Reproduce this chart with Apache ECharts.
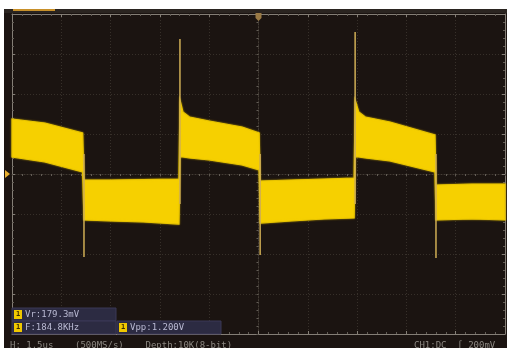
<!DOCTYPE html>
<html><head><meta charset="utf-8">
<script src="https://cdn.jsdelivr.net/npm/echarts@6/dist/echarts.min.js"></script>
<style>
html,body{margin:0;padding:0;background:#ffffff;width:510px;height:348px;overflow:hidden;}
#c{position:absolute;left:4px;top:9px;width:503px;height:339px;}
</style></head><body>
<div id="c"></div>
<script>
// time axis (µs) and voltage axis (V), 1.5 µs/div, 200 mV/div
const xTicks = [-7.5, 7.5, 1.5];
const yTicks = [-0.8, 0.8, 0.2];

// trace envelope: time points, upper edge and lower edge of the noisy band (V)
const bandT   = [-7.5, -6.5, -5.35, -5.31, -4.5, -3.5, -2.42, -2.39, -2.3, -2.1, -1.5, -0.5, 0.02, 0.05, 1.0, 2.0, 2.91, 2.94, 3.05, 3.25, 4.0, 5.37, 5.40, 6.5, 7.5];
const bandTop = [0.275, 0.255, 0.205, -0.03, -0.03, -0.028, -0.025, 0.37, 0.31, 0.285, 0.265, 0.235, 0.205, -0.035, -0.03, -0.025, -0.02, 0.37, 0.31, 0.285, 0.26, 0.195, -0.055, -0.05, -0.05];
const bandBot = [0.085, 0.06, 0.01, -0.23, -0.235, -0.24, -0.25, 0.085, 0.085, 0.08, 0.07, 0.045, 0.02, -0.245, -0.235, -0.225, -0.22, 0.085, 0.085, 0.08, 0.065, 0.01, -0.23, -0.225, -0.23];

// switching spikes at the edges
const edgeT      = [-5.31, -2.39, 0.05, 2.94, 5.40];
const spikeFrom  = [0.10, -0.15, 0.10, -0.15, 0.10];
const spikeTo    = [-0.415, 0.675, -0.405, 0.71, -0.42];

// on-screen readouts
const measRows = [["Vr:179.3mV"], ["F:184.8KHz", "Vpp:1.200V"]];
const statusLeft = "H: 1.5us    (500MS/s)    Depth:10K(8-bit)";
const statusRight = "CH1:DC  \u222B 200mV";

const spikeData = [];
edgeT.forEach((t, i) => { spikeData.push([t, spikeFrom[i]], [t, spikeTo[i]], '-'); });

const chart = echarts.init(document.getElementById('c'), null, {renderer: 'canvas'});
const gridCol = '#37302a';
const borderCol = '#847e76';
function axisBase(extra) {
  return Object.assign({
    type: 'value', min: extra.min, max: extra.max, interval: extra.interval,
    axisLabel: {show: false},
    axisLine: {show: true, lineStyle: {color: borderCol, width: 1}},
    axisTick: {show: true, inside: true, length: 3, lineStyle: {color: borderCol}},
    minorTick: {show: true, splitNumber: 5, length: 2, lineStyle: {color: '#635d56'}},
    splitLine: {show: false}
  }, extra.more || {});
}
const option = {
  backgroundColor: '#1b1411',
  animation: false,
  grid: [
    {left: 8, right: 2, top: 5, bottom: 14, show: false},
    {left: 8, right: 2, top: 5, bottom: 14, show: false}
  ],
  xAxis: [
    axisBase({min: xTicks[0], max: xTicks[1], interval: xTicks[2], more: {position: 'bottom', gridIndex: 0, axisLine: {onZero: false, show: true, lineStyle: {color: borderCol}}, splitLine: {show: true, lineStyle: {color: gridCol, type: [1, 2]}}}}),
    axisBase({min: xTicks[0], max: xTicks[1], interval: xTicks[2], more: {position: 'top', gridIndex: 0, axisLine: {onZero: false, show: true, lineStyle: {color: borderCol}}}}),
    axisBase({min: xTicks[0], max: xTicks[1], interval: xTicks[2], more: {gridIndex: 1, axisLine: {onZero: true, show: true, lineStyle: {color: '#433c35', type: [1, 2]}}, axisTick: {show: true, inside: false, length: 2, lineStyle: {color: '#5e5851'}}}})
  ],
  yAxis: [
    axisBase({min: yTicks[0], max: yTicks[1], interval: yTicks[2], more: {position: 'left', gridIndex: 0, axisLine: {onZero: false, show: true, lineStyle: {color: borderCol}}, splitLine: {show: true, lineStyle: {color: gridCol, type: [1, 2]}}}}),
    axisBase({min: yTicks[0], max: yTicks[1], interval: yTicks[2], more: {position: 'right', gridIndex: 0, axisLine: {onZero: false, show: true, lineStyle: {color: borderCol}}}}),
    axisBase({min: yTicks[0], max: yTicks[1], interval: yTicks[2], more: {gridIndex: 1, axisLine: {onZero: true, show: true, lineStyle: {color: '#433c35', type: [1, 2]}}, axisTick: {show: true, inside: false, length: 2, lineStyle: {color: '#5e5851'}}}})
  ],
  series: [
    {
      type: 'custom', xAxisIndex: 0, yAxisIndex: 0, silent: true,
      data: [[bandT[0], bandTop[0]]],
      renderItem: function (params, api) {
        const pts = [];
        for (let i = 0; i < bandT.length; i++) pts.push(api.coord([bandT[i], bandTop[i]]));
        for (let i = bandT.length - 1; i >= 0; i--) pts.push(api.coord([bandT[i], bandBot[i]]));
        return {type: 'polygon', shape: {points: pts},
          style: {fill: '#f6d000', stroke: '#e8c400', lineWidth: 1.2, shadowBlur: 2, shadowColor: 'rgba(246,208,0,0.6)'}};
      },
      z: 3
    },
    {
      type: 'line', xAxisIndex: 0, yAxisIndex: 0, data: spikeData, showSymbol: false, connectNulls: false,
      lineStyle: {color: '#cfae55', width: 1.5}, z: 4, silent: true
    }
  ],
  graphic: []
};
chart.setOption(option);

// overlays positioned from the chart's coordinates
const g = [];
// top status bar strip
g.push({type: 'rect', shape: {x: 0, y: 0, width: 503, height: 4}, style: {fill: '#2a2420'}, z: 10});
g.push({type: 'rect', shape: {x: 9, y: 0, width: 42, height: 2}, style: {fill: '#c8902a'}, z: 11});
// trigger position marker (top centre, t = 0)
const trig = chart.convertToPixel({xAxisIndex: 0, yAxisIndex: 0}, [0, 0.8]);
g.push({type: 'polygon', shape: {points: [[trig[0] - 3, trig[1] - 1], [trig[0] + 3, trig[1] - 1], [trig[0] + 3, trig[1] + 4], [trig[0], trig[1] + 7], [trig[0] - 3, trig[1] + 4]]}, style: {fill: '#9a7a45'}, z: 11});
// channel ground marker (left, V = 0)
const gnd = chart.convertToPixel({xAxisIndex: 0, yAxisIndex: 0}, [-7.5, 0]);
g.push({type: 'polygon', shape: {points: [[gnd[0] - 7, gnd[1] - 4], [gnd[0] - 2, gnd[1]], [gnd[0] - 7, gnd[1] + 4]]}, style: {fill: '#e8b030'}, z: 11});
// measurement readouts
const bx0 = 8, bw = 105, bh = 13, by0 = 299;
measRows.forEach((row, r) => {
  row.forEach((txt, c) => {
    const x = bx0 + c * bw, y = by0 + r * bh;
    g.push({type: 'rect', shape: {x: x, y: y, width: bw - 1, height: bh}, style: {fill: '#2c2b42', stroke: '#3a3956', lineWidth: 1}, z: 12});
    g.push({type: 'rect', shape: {x: x + 2, y: y + 2, width: 8, height: 9}, style: {fill: '#f0c800'}, z: 13});
    g.push({type: 'text', x: x + 4, y: y + 3, style: {text: '1', fill: '#3a2a00', font: 'bold 7px "DejaVu Sans Mono"'}, z: 14});
    g.push({type: 'text', x: x + 13, y: y + 2, style: {text: txt, fill: '#b9b9d2', font: '9px "DejaVu Sans Mono"'}, z: 14});
  });
});
// bottom status line (partly cut off by the frame edge, as in the screenshot)
g.push({type: 'text', x: 6, y: 332, style: {text: statusLeft, fill: '#8c8882', font: '9px "DejaVu Sans Mono"'}, z: 14});
g.push({type: 'text', x: 410, y: 332, style: {text: statusRight, fill: '#8c8882', font: '9px "DejaVu Sans Mono"'}, z: 14});
chart.setOption({graphic: g});
</script>
</body></html>
